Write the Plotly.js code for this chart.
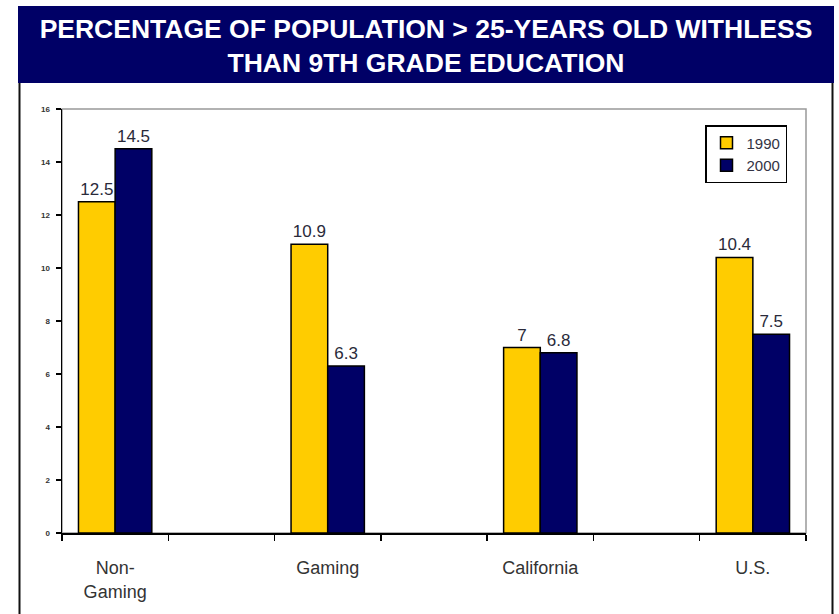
<!DOCTYPE html>
<html>
<head>
<meta charset="utf-8">
<script src="https://cdn.plot.ly/plotly-3.0.1.min.js"></script>
<style>
  html, body { margin: 0; padding: 0; background: #ffffff; }
  #chart { width: 839px; height: 614px; }
</style>
</head>
<body>
<div id="chart"></div>
<script>
// ---- data ----
const categories = ['Non-<br>Gaming', 'Gaming', 'California', 'U.S.'];
const seriesNames = ['1990', '2000'];
const values1990 = [12.5, 10.9, 7, 10.4];
const values2000 = [14.5, 6.3, 6.8, 7.5];
const yTicks = [0, 2, 4, 6, 8, 10, 12, 14, 16];
const titleText = 'PERCENTAGE OF POPULATION > 25-YEARS OLD WITHLESS<br>THAN 9TH GRADE EDUCATION';

// ---- build axis with empty spacer slots between groups ----
const slots = [];
const y90 = [];
const y00 = [];
categories.forEach((c, i) => {
  slots.push(c); y90.push(values1990[i]); y00.push(values2000[i]);
  if (i < categories.length - 1) {
    slots.push(' '.repeat(i + 1)); y90.push(null); y00.push(null);
  }
});

// plot area in pixels: x 62..806, y 109..533
const W = 839, H = 614;
const L = 62, R = 806, T = 109, B = 533;
const px = x => (x - L) / (R - L);
const py = y => (B - y) / (B - T);

const FONT = 'Arial, "Liberation Sans", sans-serif';
const labelFont = { family: FONT, size: 17, color: '#2a2a3a' };

const traces = [
  {
    type: 'bar', name: seriesNames[0], x: slots, y: y90,
    marker: { color: '#FFCC00', line: { color: '#000000', width: 1.5 } },
    text: y90.map(v => v === null ? '' : String(v)),
    textposition: 'outside', cliponaxis: false,
    textfont: labelFont, hoverinfo: 'x+y'
  },
  {
    type: 'bar', name: seriesNames[1], x: slots, y: y00,
    marker: { color: '#000066', line: { color: '#000000', width: 1.5 } },
    text: y00.map(v => v === null ? '' : String(v)),
    textposition: 'outside', cliponaxis: false,
    textfont: labelFont, hoverinfo: 'x+y'
  }
];

const layout = {
  width: W, height: H,
  paper_bgcolor: '#ffffff', plot_bgcolor: '#ffffff',
  margin: { l: L, r: W - R, t: T, b: H - B, pad: 0 },
  barmode: 'group', bargap: 0.31, bargroupgap: 0,
  font: { family: FONT, color: '#333333' },
  title: {
    text: titleText,
    font: { family: FONT, size: 26.5, color: '#ffffff', weight: 'bold' },
    x: px(426), xanchor: 'center', xref: 'paper',
    y: 1 - 37.5 / H, yanchor: 'middle', yref: 'container'
  },
  showlegend: true,
  legend: {
    x: px(787), xanchor: 'right', y: py(125), yanchor: 'top',
    bgcolor: '#ffffff', bordercolor: '#000000', borderwidth: 1.5,
    font: { family: FONT, size: 15, color: '#333344' },
    itemwidth: 30, tracegroupgap: 2, traceorder: 'normal'
  },
  xaxis: {
    type: 'category', categoryorder: 'array', categoryarray: slots,
    tickson: 'boundaries', ticks: 'outside', ticklen: 6, tickwidth: 1.5, tickcolor: '#000000',
    showline: true, linecolor: '#000000', linewidth: 1.5,
    showgrid: false, zeroline: false,
    tickfont: { family: FONT, size: 18, color: '#333333' },
    ticklabelstandoff: 18,
    range: [-0.5, slots.length - 0.5], fixedrange: true
  },
  yaxis: {
    range: [0, 16], tickvals: yTicks, ticktext: yTicks.map(String),
    ticks: 'outside', ticklen: 5, tickwidth: 1.5, tickcolor: '#000000',
    showline: true, linecolor: '#000000', linewidth: 1.5,
    showgrid: false, zeroline: false,
    tickfont: { family: FONT, size: 8, color: '#333333', weight: 'bold' },
    ticklabelstandoff: 4,
    fixedrange: true
  },
  shapes: [
    // banner
    { type: 'rect', xref: 'paper', yref: 'paper', layer: 'below',
      x0: px(18), x1: px(834), y0: py(83), y1: py(6),
      fillcolor: '#000066', line: { width: 0 } },
    // plot area gray frame
    { type: 'rect', xref: 'paper', yref: 'paper', layer: 'below',
      x0: 0, x1: 1, y0: 0, y1: 1,
      fillcolor: 'rgba(0,0,0,0)', line: { color: '#999999', width: 1.5 } },
    // outer black frame left & right
    { type: 'line', xref: 'paper', yref: 'paper', layer: 'above',
      x0: px(19.5), x1: px(19.5), y0: py(614), y1: py(83),
      line: { color: '#111111', width: 2 } },
    { type: 'line', xref: 'paper', yref: 'paper', layer: 'above',
      x0: px(832.5), x1: px(832.5), y0: py(614), y1: py(83),
      line: { color: '#111111', width: 2 } }
  ]
};

Plotly.newPlot('chart', traces, layout, { displayModeBar: false, staticPlot: true });
</script>
</body>
</html>
